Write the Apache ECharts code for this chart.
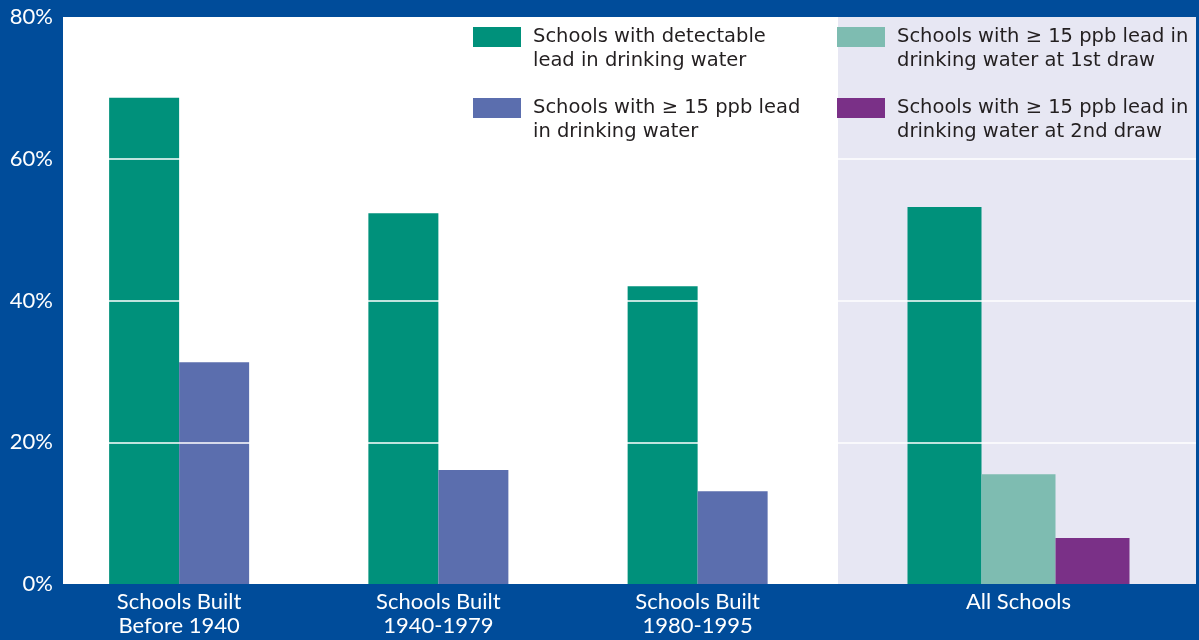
<!DOCTYPE html>
<html>
<head>
<meta charset="utf-8">
<script src="https://cdn.jsdelivr.net/npm/echarts@6/dist/echarts.min.js"></script>
<style>
html,body{margin:0;padding:0;background:#004c9a;}
#chart{width:1199px;height:640px;}
</style>
</head>
<body>
<div id="chart"></div>
<script>
// ---- data ----
const categoriesBuilt = ['Schools Built\nBefore 1940', 'Schools Built\n1940-1979', 'Schools Built\n1980-1995'];
const categoriesAll = ['All Schools'];
const detectableBuilt = [68.6, 52.3, 42.0];
const detectableAll = [53.2];
const ppb15Built = [31.3, 16.1, 13.1];
const ppb15FirstDrawAll = [15.5];
const ppb15SecondDrawAll = [6.5];
const yTicks = [0, 20, 40, 60, 80];

const names = {
  detect: 'Schools with detectable\nlead in drinking water',
  ppb: 'Schools with \u2265 15 ppb lead\nin drinking water',
  first: 'Schools with \u2265 15 ppb lead in\ndrinking water at 1st draw',
  second: 'Schools with \u2265 15 ppb lead in\ndrinking water at 2nd draw'
};
const colors = {
  detect: '#00917b',
  ppb: '#5b6eae',
  first: '#7ebcb1',
  second: '#7a3087'
};

const chart = echarts.init(document.getElementById('chart'));
const labelFont = 'Lato, "Noto Sans", sans-serif';
const legendFont = '"DejaVu Sans", sans-serif';

function legendAt(name, left, top) {
  return {
    left: left, top: top, padding: 0,
    itemWidth: 48, itemHeight: 20,
    icon: 'rect',
    selectedMode: false,
    data: [name],
    formatter: n => '\n' + n,
    textStyle: {
      fontFamily: legendFont, fontSize: 19.5, lineHeight: 24, color: '#231f20',
      padding: [0, 0, 0, 7]
    }
  };
}

const catLabel = {color: '#ffffff', fontFamily: labelFont, fontSize: 22, lineHeight: 24, margin: 6};

const option = {
  backgroundColor: '#004c9a',
  animation: false,
  grid: [
    {left: 63, right: 3, top: 17, bottom: 56, show: true, backgroundColor: '#ffffff', borderWidth: 0},
    {left: 838, right: 3, top: 17, bottom: 56, show: true, backgroundColor: '#e7e7f3', borderWidth: 0},
    {left: 49.5, width: 777.75, top: 17, bottom: 56, show: false},
    {left: 838, right: 0, top: 17, bottom: 56, show: false}
  ],
  legend: [
    legendAt(names.detect, 473, 1),
    legendAt(names.ppb, 473, 72),
    legendAt(names.first, 837, 1),
    legendAt(names.second, 837, 72)
  ],
  xAxis: [
    {gridIndex: 0, type: 'value', min: 0, max: 1, show: false},
    {gridIndex: 1, type: 'value', min: 0, max: 1, show: false},
    {gridIndex: 2, type: 'category', data: categoriesBuilt,
     axisLine: {show: false}, axisTick: {show: false}, axisLabel: catLabel},
    {gridIndex: 3, type: 'category', data: categoriesAll,
     axisLine: {show: false}, axisTick: {show: false}, axisLabel: catLabel}
  ],
  yAxis: [
    {gridIndex: 0, type: 'value', min: yTicks[0], max: yTicks[yTicks.length - 1], interval: 20,
     axisLine: {show: false}, axisTick: {show: false}, splitLine: {show: false},
     axisLabel: {color: '#ffffff', fontFamily: labelFont, fontSize: 22, margin: 10, formatter: '{value}%'}},
    {gridIndex: 1, type: 'value', min: 0, max: 80, show: false},
    {gridIndex: 2, type: 'value', min: 0, max: 80, show: false},
    {gridIndex: 3, type: 'value', min: 0, max: 80, show: false}
  ],
  series: [
    {name: names.detect, type: 'bar', xAxisIndex: 2, yAxisIndex: 2, data: detectableBuilt,
     barWidth: 70, barGap: '0%', itemStyle: {color: colors.detect}},
    {name: names.ppb, type: 'bar', xAxisIndex: 2, yAxisIndex: 2, data: ppb15Built,
     barWidth: 70, barGap: '0%', itemStyle: {color: colors.ppb}},
    {name: names.detect, type: 'bar', xAxisIndex: 3, yAxisIndex: 3, data: detectableAll,
     barWidth: 74, barGap: '0%', itemStyle: {color: colors.detect}},
    {name: names.first, type: 'bar', xAxisIndex: 3, yAxisIndex: 3, data: ppb15FirstDrawAll,
     barWidth: 74, barGap: '0%', itemStyle: {color: colors.first}},
    {name: names.second, type: 'bar', xAxisIndex: 3, yAxisIndex: 3, data: ppb15SecondDrawAll,
     barWidth: 74, barGap: '0%', itemStyle: {color: colors.second}},
    {name: 'gridlines', type: 'line', xAxisIndex: 0, yAxisIndex: 0, data: [], z: 10, silent: true,
     markLine: {silent: true, symbol: 'none', label: {show: false},
       lineStyle: {color: '#ffffff', width: 1.5, type: 'solid'},
       data: yTicks.slice(1, -1).map(v => ({yAxis: v}))}}
  ]
};
chart.setOption(option);
</script>
</body>
</html>
